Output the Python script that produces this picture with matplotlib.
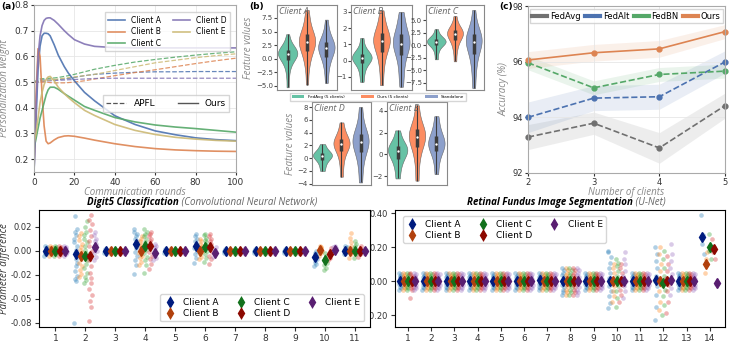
import numpy as np
import matplotlib
matplotlib.use('Agg')
from matplotlib import pyplot as plt
from matplotlib.lines import Line2D
from matplotlib.patches import Patch

# ---------------- (a) personalization weight ----------------
rounds = [0, 1, 2, 3, 4, 5, 6, 7, 8, 10, 12, 15, 17, 20, 25, 30, 40, 50, 60, 70, 80, 90, 100]
ours_a = [0.15, 0.35, 0.55, 0.64, 0.68, 0.69, 0.69, 0.688, 0.68, 0.645, 0.605, 0.56, 0.535, 0.505,
          0.46, 0.427, 0.369, 0.335, 0.31, 0.295, 0.283, 0.276, 0.272]
ours_b = [0.15, 0.45, 0.63, 0.6, 0.45, 0.33, 0.27, 0.26, 0.263, 0.275, 0.284, 0.29, 0.291, 0.289,
          0.282, 0.274, 0.26, 0.249, 0.241, 0.236, 0.233, 0.231, 0.23]
ours_c = [0.24, 0.28, 0.32, 0.36, 0.39, 0.42, 0.45, 0.47, 0.48, 0.48, 0.472, 0.455, 0.445, 0.43,
          0.405, 0.39, 0.362, 0.345, 0.333, 0.325, 0.319, 0.312, 0.305]
ours_d = [0.15, 0.4, 0.6, 0.68, 0.72, 0.74, 0.748, 0.75, 0.75, 0.74, 0.725, 0.7, 0.685, 0.665,
          0.648, 0.639, 0.634, 0.633, 0.633, 0.633, 0.633, 0.633, 0.633]
ours_e = [0.26, 0.3, 0.36, 0.42, 0.46, 0.49, 0.51, 0.52, 0.522, 0.505, 0.48, 0.455, 0.44, 0.42,
          0.39, 0.37, 0.335, 0.312, 0.296, 0.285, 0.278, 0.273, 0.27]
apfl_a = [0.5, 0.5, 0.505, 0.507, 0.508, 0.508, 0.508, 0.508, 0.508, 0.509, 0.51, 0.512, 0.514,
          0.518, 0.525, 0.53, 0.535, 0.538, 0.54, 0.54, 0.541, 0.541, 0.541]
apfl_b = [0.5, 0.5, 0.5, 0.5, 0.5, 0.5, 0.5, 0.499, 0.498, 0.497, 0.497, 0.497, 0.498, 0.5,
          0.505, 0.512, 0.525, 0.537, 0.548, 0.56, 0.572, 0.583, 0.593]
apfl_c = [0.5, 0.505, 0.51, 0.512, 0.513, 0.513, 0.514, 0.514, 0.515, 0.516, 0.518, 0.522, 0.525,
          0.53, 0.54, 0.55, 0.565, 0.578, 0.588, 0.597, 0.605, 0.612, 0.618]
apfl_d = [0.5, 0.5, 0.5, 0.501, 0.502, 0.503, 0.504, 0.505, 0.505, 0.506, 0.507, 0.508, 0.509,
          0.51, 0.512, 0.514, 0.515, 0.515, 0.515, 0.515, 0.515, 0.515, 0.515]
apfl_e = [0.5, 0.5, 0.502, 0.503, 0.504, 0.505, 0.506, 0.507, 0.508, 0.51, 0.512, 0.515, 0.517,
          0.52, 0.525, 0.53, 0.545, 0.56, 0.575, 0.585, 0.595, 0.603, 0.61]

client_names = ['Client A', 'Client B', 'Client C', 'Client D', 'Client E']

# ---------------- (b) feature values ----------------
violin_labels = ['FedAvg (5 clients)', 'Ours (5 clients)', 'Standalone']
feat_a = [[-5.3, -3.2, -1.8, -1.0, -0.5, -0.1, 0.2, 0.5, 0.7, 0.9, 1.0, 1.1, 1.3, 1.5, 1.8, 2.1, 2.5, 3.1, 4.5],
          [-4.8, -2.0, -0.5, 0.5, 1.2, 1.8, 2.3, 2.7, 3.0, 3.2, 3.5, 3.8, 4.2, 4.7, 5.3, 6.2, 7.5, 9.0],
          [-4.5, -2.5, -1.0, -0.2, 0.5, 1.0, 1.5, 1.9, 2.1, 2.3, 2.6, 3.0, 3.5, 4.2, 5.2, 7.2]]
feat_b = [[-1.3, -0.8, -0.45, -0.2, -0.05, 0.05, 0.15, 0.2, 0.25, 0.35, 0.45, 0.6, 0.85, 1.4],
          [-1.5, -0.6, 0.0, 0.4, 0.7, 0.95, 1.1, 1.2, 1.3, 1.45, 1.6, 1.8, 2.1, 2.5, 3.1],
          [-1.6, -0.9, -0.3, 0.2, 0.5, 0.75, 0.95, 1.05, 1.2, 1.35, 1.5, 1.75, 2.1, 2.5, 3.0]]
feat_c = [[-2.8, -1.5, -0.6, -0.1, 0.2, 0.45, 0.6, 0.75, 0.9, 1.1, 1.3, 1.6, 2.1, 3.2],
          [-3.2, -1.2, 0.0, 0.8, 1.4, 1.8, 2.1, 2.3, 2.5, 2.8, 3.1, 3.5, 4.2, 5.8],
          [-8.5, -5.5, -3.5, -2.0, -1.0, -0.2, 0.4, 0.8, 1.2, 1.7, 2.3, 3.0, 4.2, 7.0]]
feat_d = [[-2.0, -1.2, -0.6, -0.2, 0.1, 0.3, 0.45, 0.6, 0.8, 1.1, 1.5, 2.2],
          [-2.9, -1.0, 0.3, 1.1, 1.6, 2.0, 2.2, 2.4, 2.7, 3.0, 3.5, 4.3, 5.6],
          [-3.8, -1.5, 0.0, 1.0, 1.7, 2.2, 2.6, 2.9, 3.3, 3.8, 4.6, 5.8, 8.0]]
feat_e = [[-2.2, -1.3, -0.7, -0.3, 0.0, 0.2, 0.4, 0.55, 0.75, 1.0, 1.4, 2.2],
          [-2.4, -0.8, 0.2, 0.8, 1.2, 1.5, 1.7, 1.9, 2.2, 2.6, 3.2, 4.5],
          [-1.8, -0.7, 0.0, 0.4, 0.7, 0.9, 1.1, 1.3, 1.6, 2.0, 2.6, 3.5]]

# ---------------- (c) accuracy ----------------
n_clients = [2, 3, 4, 5]
acc_fedavg = [93.29, 93.79, 92.9, 94.42]
acc_fedalt = [94.0, 94.69, 94.74, 95.99]
acc_fedbn = [95.96, 95.06, 95.54, 95.66]
acc_ours = [96.06, 96.32, 96.46, 97.08]
err_fedavg = [0.45, 0.4, 0.55, 0.45]
err_fedalt = [0.55, 0.45, 0.45, 0.4]
err_fedbn = [0.25, 0.25, 0.25, 0.25]
err_ours = [0.3, 0.3, 0.3, 0.25]

# ---------------- bottom: parameter differences ----------------
digit_layers = [1, 2, 3, 4, 5, 6, 7, 8, 9, 10, 11]
flat = [-0.0016, -0.0009, -0.0004, 0.0, 0.0002, 0.0007, 0.0011, 0.0015]
narrow = [-0.0042, -0.003, -0.0021, -0.0008, 0.0, 0.0004, 0.0013, 0.0024, 0.0033, 0.0041]
digit_a = [narrow,
           [-0.08, -0.027, -0.025, -0.021, -0.017, -0.013, -0.01, -0.007, -0.004, -0.002, 0.001, 0.004,
            0.007, 0.01, 0.013, 0.016, 0.018, 0.029],
           flat,
           [-0.019, -0.012, -0.008, -0.004, -0.001, 0.002, 0.004, 0.006, 0.008, 0.01, 0.012, 0.014, 0.016, 0.018],
           flat,
           [-0.01, -0.006, -0.003, 0.0, 0.002, 0.004, 0.006, 0.008, 0.01, 0.012, 0.014],
           flat, flat, flat,
           [-0.013, -0.011, -0.009, -0.007, -0.005, -0.004, -0.003, -0.002, 0.0],
           [-0.003, -0.002, -0.001, 0.0, 0.001, 0.002, 0.003, 0.004]]
digit_b = [narrow,
           [-0.022, -0.019, -0.016, -0.013, -0.01, -0.007, -0.005, -0.003, -0.001, 0.001, 0.003, 0.006,
            0.009, 0.012, 0.015],
           flat,
           [-0.012, -0.009, -0.006, -0.004, -0.002, 0.0, 0.002, 0.004, 0.006, 0.008, 0.01, 0.012],
           flat,
           [-0.007, -0.005, -0.003, -0.001, 0.0, 0.002, 0.004, 0.006, 0.008, 0.01],
           flat, flat, flat,
           [-0.004, -0.002, -0.001, 0.0, 0.001, 0.002, 0.003, 0.004],
           [-0.006, -0.003, -0.001, 0.0, 0.002, 0.004, 0.007, 0.011, 0.015]]
digit_c = [narrow,
           [-0.03, -0.026, -0.022, -0.018, -0.014, -0.011, -0.008, -0.005, -0.002, 0.001, 0.004, 0.007,
            0.01, 0.013, 0.016, 0.02, 0.025],
           flat,
           [-0.018, -0.012, -0.008, -0.005, -0.002, 0.001, 0.004, 0.007, 0.01, 0.012, 0.014, 0.016, 0.018],
           flat,
           [-0.009, -0.006, -0.003, 0.0, 0.003, 0.005, 0.007, 0.009, 0.011, 0.013, 0.014],
           flat, flat, flat,
           [-0.016, -0.014, -0.012, -0.01, -0.008, -0.006, -0.004, -0.002],
           [-0.006, -0.003, -0.001, 0.0, 0.002, 0.004, 0.006, 0.008]]
digit_d = [narrow,
           [-0.078, -0.06, -0.052, -0.045, -0.038, -0.03, -0.024, -0.018, -0.013, -0.008, -0.004, 0.0,
            0.004, 0.008, 0.012, 0.017, 0.022, 0.026, 0.03],
           flat,
           [-0.015, -0.011, -0.007, -0.004, -0.001, 0.002, 0.005, 0.008, 0.01, 0.012, 0.014, 0.016],
           flat,
           [-0.011, -0.007, -0.004, -0.001, 0.002, 0.004, 0.006, 0.008, 0.01, 0.012, 0.014],
           flat, flat, flat,
           [-0.008, -0.006, -0.004, -0.003, -0.002, 0.0, 0.002],
           [-0.005, -0.003, -0.001, 0.0, 0.001, 0.002, 0.004]]
digit_e = [narrow,
           [-0.008, -0.005, -0.002, 0.0, 0.002, 0.004, 0.006, 0.008, 0.01, 0.013, 0.016],
           flat,
           [-0.008, -0.006, -0.004, -0.002, 0.0, 0.002, 0.004, 0.006],
           flat,
           [-0.005, -0.003, -0.002, -0.001, 0.0, 0.001, 0.003],
           flat, flat, flat,
           [-0.001, 0.0, 0.001, 0.002, 0.003, 0.004],
           flat]
digit_mean_a = [0, -0.003, 0, 0.006, 0, 0.004, 0, 0, 0, -0.005, 0]
digit_mean_b = [0, -0.004, 0, 0, 0, 0, 0, 0, 0, 0.001, 0]
digit_mean_c = [0, -0.004, 0, 0.004, 0, 0.003, 0, 0, 0, -0.008, 0]
digit_mean_d = [0, -0.004, 0, 0.004, 0, 0.003, 0, 0, 0, -0.003, 0]
digit_mean_e = [0, 0.003, 0, -0.002, 0, -0.002, 0, 0, 0, 0.001, 0]

retina_layers = [1, 2, 3, 4, 5, 6, 7, 8, 9, 10, 11, 12, 13, 14]
ret_base = [-0.052, -0.041, -0.033, -0.024, -0.016, -0.008, 0.0, 0.007, 0.015, 0.023, 0.032, 0.04, 0.05]
ret_wide = [-0.08, -0.065, -0.05, -0.035, -0.02, -0.008, 0.0, 0.01, 0.022, 0.036, 0.05, 0.064, 0.08]
retina_a = [ret_base] * 7 + [ret_wide, ret_base,
            [-0.16, -0.13, -0.09, -0.06, -0.03, -0.01, 0.0, 0.02, 0.05, 0.08, 0.11, 0.14, 0.17, 0.18],
            ret_base,
            [-0.23, -0.15, -0.08, -0.03, 0.0, 0.03, 0.08, 0.12, 0.16, 0.2],
            ret_base,
            [0.39, 0.27, 0.22, 0.16]]
retina_b = [ret_base] * 7 + [ret_wide, ret_base,
            [-0.12, -0.09, -0.06, -0.03, 0.0, 0.02, 0.05, 0.08, 0.1],
            ret_base,
            [-0.17, -0.12, -0.06, -0.02, 0.02, 0.06, 0.1, 0.16, 0.2],
            ret_base,
            [0.05, 0.1, 0.13, 0.17]]
retina_c = [ret_base] * 7 + [ret_wide, ret_base,
            [-0.15, -0.1, -0.06, -0.03, 0.0, 0.03, 0.06, 0.09, 0.11, 0.13],
            ret_base,
            [-0.2, -0.14, -0.09, -0.05, -0.01, 0.03, 0.08, 0.13, 0.18],
            ret_base,
            [0.28, 0.21, 0.18, 0.13]]
retina_d = [[-0.1] + ret_base] + [ret_base] * 6 + [ret_wide, ret_base,
            [-0.12, -0.08, -0.05, -0.02, 0.0, 0.02, 0.05, 0.08, 0.1],
            ret_base,
            [-0.19, -0.12, -0.06, -0.02, 0.02, 0.06, 0.1, 0.15],
            ret_base,
            [0.25, 0.2, 0.17, 0.13]]
retina_e = [ret_base] * 7 + [ret_wide, ret_base,
            [-0.1, -0.06, -0.03, 0.0, 0.03, 0.06, 0.1, 0.13, 0.17],
            ret_base,
            [-0.08, -0.04, 0.0, 0.04, 0.08, 0.12, 0.16, 0.22],
            ret_base,
            [-0.015, -0.01, -0.005]]
retina_mean_a = [0, 0, 0, 0, 0, 0, 0.005, 0, 0, 0, 0, 0.01, 0, 0.26]
retina_mean_b = [0, 0, 0, 0, 0, 0, 0, 0, 0, 0, 0, 0, 0, 0.1]
retina_mean_c = [0, 0, 0, 0, 0, 0, 0, 0, 0, 0, 0, -0.01, 0, 0.2]
retina_mean_d = [0, 0, 0, 0, 0, 0, 0, 0, 0, 0, 0, 0, 0, 0.19]
retina_mean_e = [0, 0, 0, 0, 0, 0, 0, 0, 0, 0, 0, 0.005, 0, -0.01]

# ---------------- styles ----------------
weight_colors = ['#4c72b0', '#dd8452', '#55a868', '#8172b3', '#ccb974']
set2 = ['#66c2a5', '#fc8d62', '#8da0cb']
strip_colors = ['#1f77b4', '#ff7f0e', '#2ca02c', '#d62728', '#9467bd']
dark_colors = ['#001c7f', '#b1400d', '#12711c', '#8c0800', '#591e71']
dodge = [-0.32, -0.16, 0.0, 0.16, 0.32]
jitter = [-0.05, 0.02, -0.02, 0.05, -0.04, 0.01, 0.04, -0.01, 0.03, -0.03, 0.0, 0.045, -0.045]
LBL = dict(family='Open Sans', style='italic', color='#888888')

plt.rcParams['font.family'] = ['DejaVu Sans']
fig = plt.figure(figsize=(7.32, 3.44), dpi=100)


def px(l, t, r, b):
    return [l / 732, 1 - b / 344, (r - l) / 732, (b - t) / 344]


def ylabel_at(ax, x_pix):
    # place y label at an absolute figure x position
    pos = ax.get_position()
    ax.yaxis.set_label_coords((x_pix / 732 - pos.x0) / pos.width, 0.5)


# ---- (a)
ax = fig.add_axes(px(34, 5, 236, 172))
for ys, c in zip([apfl_a, apfl_b, apfl_c, apfl_d, apfl_e], weight_colors):
    ax.plot(rounds, ys, ls='--', color=c, lw=0.9, alpha=0.85)
for ys, c, n in zip([ours_a, ours_b, ours_c, ours_d, ours_e], weight_colors, client_names):
    ax.plot(rounds, ys, color=c, lw=1.2, alpha=0.9, label=n)
ax.set_xlim(0, 100)
ax.set_ylim(0.15, 0.8)
ax.set_yticks([0.2, 0.3, 0.4, 0.5, 0.6, 0.7, 0.8])
ax.grid(color='#e6e6e6', lw=0.6)
ax.tick_params(labelsize=6.5, length=2, pad=2, colors='#333333')
for s in ax.spines.values():
    s.set_color('#aaaaaa')
ax.set_xlabel('Communication rounds', fontsize=7, labelpad=0, **LBL)
ax.set_ylabel('Personalization weight', fontsize=7, **LBL)
ylabel_at(ax, 10)
leg1 = ax.legend(loc='upper right', ncol=2, fontsize=5.5, handlelength=2.2, columnspacing=1.5,
                 borderpad=0.5, labelspacing=0.3, edgecolor='#cccccc', fancybox=False,
                 bbox_to_anchor=(0.99, 0.98))
ax.add_artist(leg1)
ax.legend([Line2D([], [], ls='--', color='#555555', lw=0.9), Line2D([], [], color='#555555', lw=1)],
          ['APFL', 'Ours'], loc='center right', bbox_to_anchor=(0.99, 0.41), ncol=2, fontsize=6.5,
          handlelength=2.2, columnspacing=2.5, edgecolor='#cccccc', fancybox=False, borderpad=0.4)
fig.text(1 / 732, 1 - 6 / 344, '(a)', fontsize=6.5, fontweight='bold', va='center')

# ---- (b)
vpos = [px(277, 5, 337, 90), px(351, 5, 412, 90), px(426, 5, 484, 90),
        px(312, 102, 371, 185), px(387, 102, 447, 185)]
vlims = [(-5.8, 9.9), (-1.8, 3.43), (-8.9, 8.0), (-4.2, 8.8), (-2.8, 4.8)]
vticks = [[-5.0, -2.5, 0.0, 2.5, 5.0, 7.5], [-1, 0, 1, 2, 3], [-7.5, -5.0, -2.5, 0.0, 2.5, 5.0],
          [-4, -2, 0, 2, 4, 6, 8], [-2, 0, 2, 4]]
for i, (samples, name) in enumerate(zip([feat_a, feat_b, feat_c, feat_d, feat_e], client_names)):
    vax = fig.add_axes(vpos[i])
    parts = vax.violinplot(samples, positions=[0, 1, 2], widths=[1.0, 0.85, 0.85],
                           showextrema=False, bw_method=0.45)
    for body, c in zip(parts['bodies'], set2):
        body.set_facecolor(c)
        body.set_edgecolor('#666666')
        body.set_linewidth(0.4)
        body.set_alpha(1)
    for k, s in enumerate(samples):
        q1, med, q3 = np.percentile(s, [25, 50, 75])
        vax.vlines(k, min(s), max(s), color='#3c3c3c', lw=0.8)
        vax.vlines(k, q1, q3, color='#3c3c3c', lw=2.5)
        vax.scatter([k], [med], s=3, color='white', zorder=3, lw=0)
    vax.set_xlim(-0.55, 2.55)
    vax.set_ylim(*vlims[i])
    vax.set_yticks(vticks[i])
    vax.set_xticks([])
    vax.tick_params(labelsize=5, length=2, colors='#444444', pad=1)
    for s in vax.spines.values():
        s.set_color('#888888')
    vax.text(0.03, 0.98, name, transform=vax.transAxes, ha='left', va='top', fontsize=6.5,
             family='Open Sans', style='italic', color='#666666')
    if i in (0, 3):
        vax.set_ylabel('Feature values', fontsize=7, labelpad=1, **LBL)
fig.legend([Patch(facecolor=c) for c in set2], violin_labels, loc='center',
           bbox_to_anchor=(378 / 732, 1 - 97 / 344), ncol=3, fontsize=3, handlelength=3,
           handleheight=0.8, columnspacing=4, edgecolor='#cccccc', fancybox=False, borderpad=0.4)
fig.text(249 / 732, 1 - 6 / 344, '(b)', fontsize=6.5, fontweight='bold', va='center')

# ---- (c)
cax = fig.add_axes(px(528, 6, 725, 173))
series = [(acc_fedavg, err_fedavg, '#707070', 'FedAvg', '--'),
          (acc_fedalt, err_fedalt, '#4c72b0', 'FedAlt', '--'),
          (acc_fedbn, err_fedbn, '#55a868', 'FedBN', '--'),
          (acc_ours, err_ours, '#dd8452', 'Ours', '-')]
for acc, err, c, name, ls in series:
    acc = np.array(acc)
    err = np.array(err)
    cax.fill_between(n_clients, acc - err, acc + err, color=c, alpha=0.12, lw=0)
    cax.plot(n_clients, acc, ls=ls, color=c, lw=1.2, marker='o', ms=3.5, clip_on=False)
cax.set_xlim(2, 5)
cax.set_ylim(92, 98)
cax.set_xticks(n_clients)
cax.set_yticks([92, 94, 96, 98])
cax.grid(color='#e6e6e6', lw=0.6)
cax.tick_params(labelsize=6, length=2, pad=1.5, colors='#333333')
for s in cax.spines.values():
    s.set_color('#aaaaaa')
cax.set_xlabel('Number of clients', fontsize=7, labelpad=0, **LBL)
cax.set_ylabel('Accuracy (%)', fontsize=7, labelpad=2, **LBL)
cax.legend([Line2D([], [], color=c, lw=3) for _, _, c, _, _ in series], [s[3] for s in series],
           loc='upper center', ncol=4, fontsize=6, handlelength=1.8, columnspacing=0.5,
           handletextpad=0.35, edgecolor='#cccccc', fancybox=False, bbox_to_anchor=(0.5, 0.995),
           borderpad=0.3, borderaxespad=0.3)
fig.text(499 / 732, 1 - 6 / 344, '(c)', fontsize=6.5, fontweight='bold', va='center')


# ---- bottom strip panels
def strips(ax, layers, groups, means):
    handles = []
    for ci in range(5):
        for li, pts in enumerate(groups[ci]):
            xs = [layers[li] + dodge[ci] + jitter[k % len(jitter)] for k in range(len(pts))]
            ax.scatter(xs, pts, s=11, color=strip_colors[ci], alpha=0.35, lw=0)
        ax.plot(np.array(layers) + dodge[ci], means[ci], 'd', color=dark_colors[ci], ms=5,
                ls='none', zorder=4)
        handles.append((Line2D([], [], marker='|', color=dark_colors[ci], ms=8, mew=0.8, ls='none'),
                        Line2D([], [], marker='d', color=dark_colors[ci], ms=5, ls='none')))
    ax.set_xticks(layers)
    ax.tick_params(labelsize=6.5, length=3, pad=2, colors='#333333')
    ax.set_xlabel('Layer', fontsize=8, labelpad=1)
    return handles


def fwd(y):
    return np.where(y >= -0.02, y, -0.02 + (y + 0.02) * 2 / 3)


def inv(u):
    return np.where(u >= -0.02, u, -0.02 + (u + 0.02) * 1.5)


rax = fig.add_axes(px(395, 210, 725, 327))
h = strips(rax, retina_layers, [retina_a, retina_b, retina_c, retina_d, retina_e],
           [retina_mean_a, retina_mean_b, retina_mean_c, retina_mean_d, retina_mean_e])
rax.set_xlim(0.45, 14.65)
rax.set_ylim(-0.27, 0.42)
rax.set_yticks([-0.2, 0.0, 0.2, 0.4])
rax.set_yticklabels(['-0.20', '0.00', '0.20', '0.40'])
rax.tick_params(axis='y', labelsize=6)
rax.legend(h, client_names, loc='upper left', ncol=3, fontsize=6.5, handlelength=1.3,
           columnspacing=1.8, labelspacing=0.2, borderpad=0.4, bbox_to_anchor=(0.01, 0.985))
rax.text(0.721, 1.02, 'Retinal Fundus Image Segmentation', transform=rax.transAxes, ha='right',
         va='bottom', fontsize=7, family='Open Sans', style='italic', fontweight='bold')
rax.text(0.721, 1.02, ' (U-Net)', transform=rax.transAxes, ha='left', va='bottom', fontsize=7,
         family='Open Sans', style='italic', color='#666666')

lax = fig.add_axes(px(39, 210, 370, 327))
h = strips(lax, digit_layers, [digit_a, digit_b, digit_c, digit_d, digit_e],
           [digit_mean_a, digit_mean_b, digit_mean_c, digit_mean_d, digit_mean_e])
lax.set_yscale('function', functions=(fwd, inv))
lax.set_xlim(0.45, 11.5)
lax.set_ylim(-0.085, 0.034)
lax.set_yticks([-0.08, -0.05, -0.02, 0.0, 0.02])
lax.set_yticklabels(['-0.08', '-0.05', '-0.02', '0.00', '0.02'])
lax.minorticks_off()
lax.tick_params(axis='y', labelsize=6)
lax.set_ylabel('Parameter difference', fontsize=7, **dict(LBL, color='#333333'))
ylabel_at(lax, 10)
lax.legend(h, client_names, loc='lower right', ncol=3, fontsize=6.5, handlelength=1.3,
           columnspacing=1.8, labelspacing=0.2, borderpad=0.4, bbox_to_anchor=(0.995, 0.01))
lax.text(0.423, 1.02, 'Digit5 Classification', transform=lax.transAxes, ha='right', va='bottom',
         fontsize=7, family='Open Sans', style='italic', fontweight='bold')
lax.text(0.423, 1.02, ' (Convolutional Neural Network)', transform=lax.transAxes, ha='left',
         va='bottom', fontsize=7, family='Open Sans', style='italic', color='#666666')

fig.savefig('out.png', dpi=100)
